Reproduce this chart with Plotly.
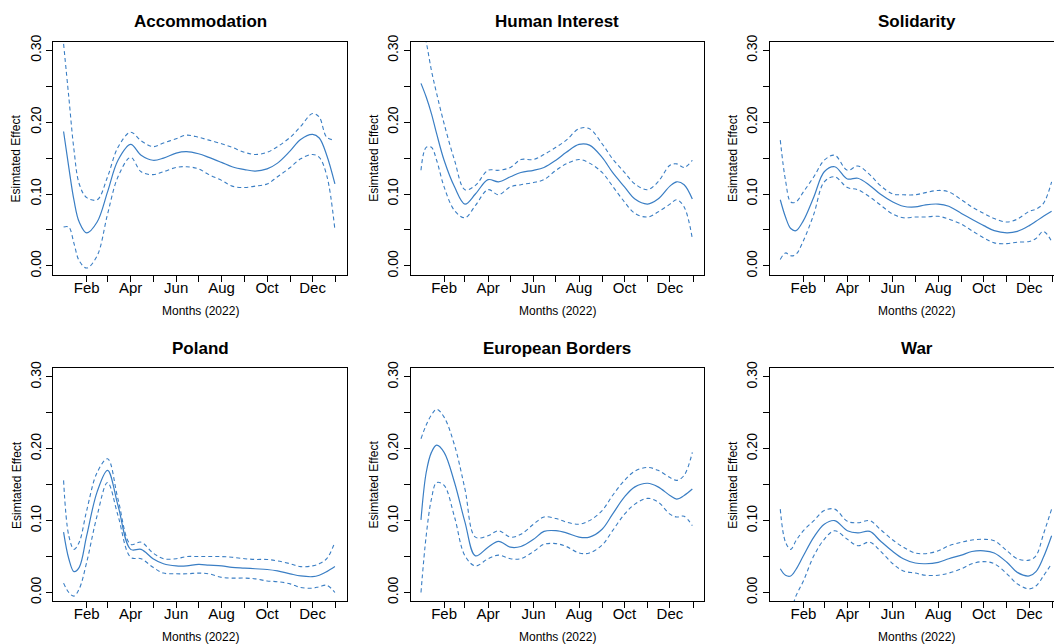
import plotly.graph_objects as go
import pandas as pd

# ---------------- data ----------------
DATES = ["2022-01-01", "2022-01-08", "2022-01-15", "2022-01-22", "2022-02-01", "2022-02-15",
         "2022-03-01", "2022-03-15", "2022-04-01", "2022-04-15", "2022-05-01", "2022-05-15",
         "2022-06-01", "2022-06-15", "2022-07-01", "2022-07-15", "2022-08-01", "2022-08-15",
         "2022-09-01", "2022-09-15", "2022-10-01", "2022-10-15", "2022-11-01", "2022-11-15",
         "2022-12-01", "2022-12-10", "2022-12-20", "2022-12-31"]

PANEL_TITLES = ["Accommodation", "Human Interest", "Solidarity",
                "Poland", "European Borders", "War"]

accommodation_est = [0.187, 0.137, 0.091, 0.061, 0.046, 0.061, 0.103, 0.147, 0.169, 0.154, 0.147, 0.150,
                     0.157, 0.159, 0.156, 0.151, 0.144, 0.138, 0.134, 0.132, 0.135, 0.143, 0.160, 0.176,
                     0.183, 0.178, 0.154, 0.114]
accommodation_hi = [0.309, 0.235, 0.161, 0.114, 0.095, 0.092, 0.124, 0.165, 0.186, 0.174, 0.166, 0.171,
                    0.177, 0.182, 0.179, 0.175, 0.170, 0.165, 0.158, 0.155, 0.158, 0.166, 0.179, 0.194,
                    0.212, 0.207, 0.179, 0.175]
accommodation_lo = [0.054, 0.054, 0.031, 0.007, -0.003, 0.014, 0.072, 0.124, 0.151, 0.131, 0.127, 0.131,
                    0.137, 0.138, 0.135, 0.127, 0.119, 0.111, 0.109, 0.111, 0.114, 0.124, 0.137, 0.149,
                    0.155, 0.151, 0.126, 0.050]

human_est = [0.254, 0.235, 0.212, 0.184, 0.147, 0.110, 0.086, 0.100, 0.120, 0.117, 0.124, 0.130,
             0.133, 0.137, 0.147, 0.158, 0.169, 0.168, 0.151, 0.130, 0.110, 0.093, 0.086, 0.093,
             0.111, 0.117, 0.113, 0.093]
human_hi = [0.345, 0.312, 0.272, 0.240, 0.198, 0.147, 0.106, 0.112, 0.133, 0.133, 0.137, 0.148,
            0.148, 0.155, 0.165, 0.175, 0.191, 0.191, 0.170, 0.149, 0.130, 0.114, 0.106, 0.117,
            0.140, 0.142, 0.137, 0.147]
human_lo = [0.133, 0.165, 0.165, 0.147, 0.110, 0.077, 0.067, 0.084, 0.106, 0.099, 0.110, 0.113,
            0.116, 0.120, 0.133, 0.142, 0.148, 0.143, 0.130, 0.111, 0.089, 0.073, 0.068, 0.075,
            0.086, 0.092, 0.082, 0.038]

solidarity_est = [0.092, 0.068, 0.052, 0.049, 0.063, 0.096, 0.131, 0.138, 0.121, 0.122, 0.112, 0.100,
                  0.089, 0.083, 0.082, 0.085, 0.086, 0.083, 0.073, 0.065, 0.056, 0.049, 0.046, 0.048,
                  0.056, 0.062, 0.069, 0.076]
solidarity_hi = [0.175, 0.119, 0.089, 0.089, 0.103, 0.124, 0.147, 0.154, 0.133, 0.139, 0.127, 0.112,
                 0.100, 0.099, 0.099, 0.102, 0.105, 0.103, 0.092, 0.082, 0.073, 0.066, 0.061, 0.065,
                 0.076, 0.079, 0.087, 0.117]
solidarity_lo = [0.009, 0.018, 0.014, 0.016, 0.035, 0.072, 0.117, 0.124, 0.109, 0.106, 0.096, 0.085,
                 0.072, 0.067, 0.068, 0.068, 0.069, 0.065, 0.058, 0.049, 0.039, 0.032, 0.031, 0.033,
                 0.034, 0.038, 0.048, 0.034]

poland_est = [0.084, 0.047, 0.029, 0.035, 0.079, 0.140, 0.170, 0.121, 0.060, 0.060, 0.047, 0.040,
              0.037, 0.037, 0.039, 0.038, 0.037, 0.035, 0.034, 0.033, 0.032, 0.030, 0.026, 0.023,
              0.022, 0.024, 0.029, 0.036]
poland_hi = [0.156, 0.079, 0.060, 0.070, 0.114, 0.167, 0.186, 0.130, 0.067, 0.070, 0.055, 0.047,
             0.047, 0.050, 0.050, 0.050, 0.050, 0.049, 0.047, 0.046, 0.046, 0.044, 0.040, 0.036,
             0.037, 0.040, 0.047, 0.070]
poland_lo = [0.013, 0.000, -0.005, 0.005, 0.042, 0.107, 0.153, 0.107, 0.049, 0.047, 0.035, 0.027,
             0.026, 0.026, 0.027, 0.026, 0.021, 0.020, 0.020, 0.019, 0.016, 0.015, 0.012, 0.007,
             0.006, 0.008, 0.010, 0.000]

borders_est = [0.101, 0.167, 0.195, 0.205, 0.195, 0.153, 0.098, 0.051, 0.063, 0.071, 0.063, 0.064,
               0.074, 0.085, 0.086, 0.083, 0.077, 0.077, 0.088, 0.109, 0.133, 0.147, 0.152, 0.147,
               0.135, 0.130, 0.135, 0.144]
borders_hi = [0.214, 0.233, 0.247, 0.255, 0.244, 0.205, 0.144, 0.077, 0.079, 0.086, 0.077, 0.081,
              0.095, 0.105, 0.103, 0.098, 0.095, 0.100, 0.114, 0.135, 0.156, 0.169, 0.174, 0.170,
              0.160, 0.156, 0.163, 0.195]
borders_lo = [0.000, 0.079, 0.130, 0.153, 0.149, 0.105, 0.051, 0.037, 0.047, 0.052, 0.047, 0.047,
              0.057, 0.067, 0.068, 0.064, 0.055, 0.055, 0.066, 0.086, 0.109, 0.123, 0.131, 0.126,
              0.109, 0.105, 0.106, 0.093]

war_est = [0.033, 0.024, 0.023, 0.032, 0.051, 0.077, 0.095, 0.100, 0.086, 0.083, 0.085, 0.072,
           0.057, 0.047, 0.041, 0.040, 0.042, 0.047, 0.052, 0.057, 0.058, 0.055, 0.042, 0.028,
           0.023, 0.029, 0.049, 0.079]
war_hi = [0.116, 0.070, 0.060, 0.072, 0.086, 0.100, 0.114, 0.116, 0.099, 0.097, 0.100, 0.088,
          0.073, 0.063, 0.055, 0.054, 0.058, 0.065, 0.070, 0.073, 0.074, 0.072, 0.058, 0.047,
          0.045, 0.051, 0.081, 0.116]
war_lo = [-0.060, -0.045, -0.028, -0.005, 0.016, 0.051, 0.074, 0.086, 0.074, 0.065, 0.070, 0.058,
          0.040, 0.030, 0.027, 0.024, 0.024, 0.027, 0.033, 0.040, 0.043, 0.040, 0.026, 0.012,
          0.005, 0.009, 0.023, 0.040]

SERIES = [
    (accommodation_est, accommodation_hi, accommodation_lo),
    (human_est, human_hi, human_lo),
    (solidarity_est, solidarity_hi, solidarity_lo),
    (poland_est, poland_hi, poland_lo),
    (borders_est, borders_hi, borders_lo),
    (war_est, war_hi, war_lo),
]

X_TICK_DATES = ["2022-02-01", "2022-03-01", "2022-04-01", "2022-05-01", "2022-06-01", "2022-07-01",
                "2022-08-01", "2022-09-01", "2022-10-01", "2022-11-01", "2022-12-01", "2023-01-01"]
X_TICK_TEXT = ["Feb", "", "Apr", "", "Jun", "", "Aug", "", "Oct", "", "Dec", ""]
Y_TICK_VALS = [0.0, 0.05, 0.10, 0.15, 0.20, 0.25, 0.30]
Y_TICK_TEXT = ["0.00", "", "0.10", "", "0.20", "", "0.30"]
Y_RANGE = [-0.012, 0.312]

Y_TITLE = "Esimtated Effect"
X_TITLE = "Months (2022)"

# ---------------- layout geometry ----------------
W, H = 1054, 644
BOX_LEFT = [53.3, 410.7, 770.0]
BOX_W = 293.4
ROW_TOP = [41.7, 368.3]
BOX_H = 232.8
X_START = pd.Timestamp("2021-12-18 05:00")
SPAN_DAYS = 393.6

LINE_COLOR = "#3a7ec4"
FONT = "Liberation Sans, Arial, Helvetica, sans-serif"

fig = go.Figure()
annotations = []

for i, (title, (est, hi, lo)) in enumerate(zip(PANEL_TITLES, SERIES)):
    row, col = divmod(i, 3)
    left = BOX_LEFT[col]
    right = min(left + BOX_W, W)
    top = ROW_TOP[row]
    bottom = top + BOX_H
    frac = (right - left) / BOX_W
    x_end = X_START + pd.Timedelta(days=SPAN_DAYS * frac)
    n = i + 1
    xa = "x" if n == 1 else f"x{n}"
    ya = "y" if n == 1 else f"y{n}"

    for vals, dash, w in ((hi, "4px,3px", 1.1), (lo, "4px,3px", 1.1), (est, "solid", 1.2)):
        fig.add_trace(go.Scatter(
            x=DATES, y=vals, mode="lines", xaxis=xa, yaxis=ya,
            line=dict(color=LINE_COLOR, width=w, dash=dash, shape="spline", smoothing=1.0),
            showlegend=False, hoverinfo="skip"))

    xkey = "xaxis" if n == 1 else f"xaxis{n}"
    ykey = "yaxis" if n == 1 else f"yaxis{n}"
    fig.update_layout({
        xkey: dict(
            domain=[left / W, right / W], anchor=ya, type="date", automargin=False,
            range=[X_START.strftime("%Y-%m-%d %H:%M:%S"), x_end.strftime("%Y-%m-%d %H:%M:%S")],
            tickmode="array", tickvals=X_TICK_DATES, ticktext=X_TICK_TEXT,
            ticks="outside", ticklen=6, tickwidth=1, tickcolor="black",
            ticklabelstandoff=-7,
            showline=True, linecolor="black", linewidth=1, mirror=True,
            showgrid=False, zeroline=False,
            tickfont=dict(family=FONT, size=15, color="black")),
        ykey: dict(
            domain=[1 - bottom / H, 1 - top / H], anchor=xa, range=Y_RANGE, automargin=False,
            tickmode="array", tickvals=Y_TICK_VALS, ticktext=Y_TICK_TEXT, tickangle=-90,
            ticks="outside", ticklen=6, tickwidth=1, tickcolor="black",
            showline=True, linecolor="black", linewidth=1, mirror=(col != 2),
            showgrid=False, zeroline=False,
            tickfont=dict(family=FONT, size=14, color="black")),
    })

    cx = (left + BOX_W / 2) / W
    annotations.append(dict(text=f"<b>{title}</b>", x=cx, y=1 - (top - 20) / H,
                            xref="paper", yref="paper", xanchor="center", yanchor="middle",
                            showarrow=False, font=dict(family=FONT, size=17, color="black")))
    annotations.append(dict(text=X_TITLE, x=cx, y=1 - (bottom + 36) / H,
                            xref="paper", yref="paper", xanchor="center", yanchor="middle",
                            showarrow=False, font=dict(family=FONT, size=12, color="black")))
    annotations.append(dict(text=Y_TITLE, x=(left - 37) / W, y=1 - (top + BOX_H / 2) / H,
                            xref="paper", yref="paper", xanchor="center", yanchor="middle",
                            textangle=-90, showarrow=False,
                            font=dict(family=FONT, size=12, color="black")))

fig.update_layout(width=W, height=H, margin=dict(l=0, r=0, t=0, b=0, autoexpand=False),
                  paper_bgcolor="white", plot_bgcolor="white",
                  annotations=annotations, showlegend=False)

fig.write_html("out.html", config={"displayModeBar": False},
               post_script="document.body.style.margin='0';document.body.style.overflow='hidden';")
